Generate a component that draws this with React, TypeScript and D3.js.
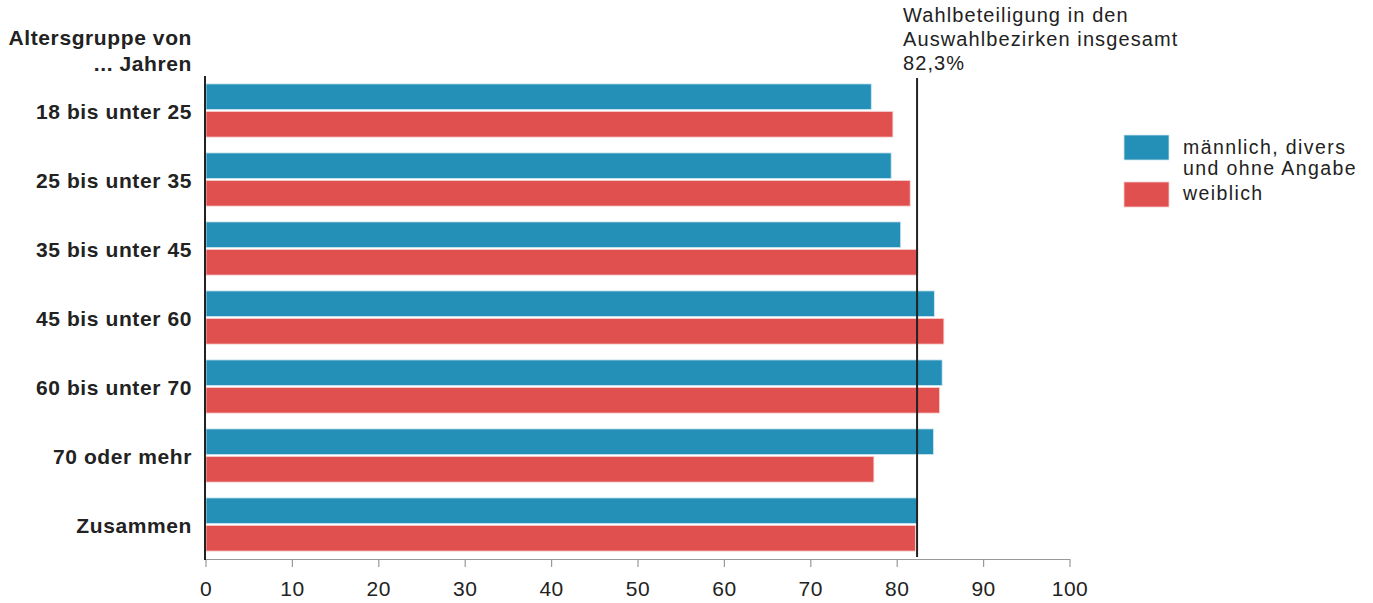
import React from "react";
import * as d3 from "d3";

const categories = ["18 bis unter 25", "25 bis unter 35", "35 bis unter 45", "45 bis unter 60", "60 bis unter 70", "70 oder mehr", "Zusammen"];
const maleValues = [77.0, 79.3, 80.4, 84.3, 85.2, 84.2, 82.3];
const femaleValues = [79.5, 81.5, 82.4, 85.4, 84.9, 77.3, 82.1];
const xTicks = [0, 10, 20, 30, 40, 50, 60, 70, 80, 90, 100];
const overall = 82.3;
const seriesNames = ["männlich, divers\nund ohne Angabe", "weiblich"];
const colors = ["#2490b8", "#e0504e"];

const W = 1373;
const H = 603;
const FONT = "'Liberation Sans', Arial, Helvetica, sans-serif";

export default function App() {
  const x = d3.scaleLinear().domain([0, 100]).range([206, 1070]);
  const y = d3.scaleBand<string>().domain(categories).range([76, 559]).paddingInner(0.23).paddingOuter(0.115);
  const bw = y.bandwidth();
  const barH = (bw - 2) / 2;
  const lbl = { fontWeight: "bold" as const, fontSize: 21, fill: "#222", letterSpacing: 0.6 };
  const reg = { fontSize: 20, fill: "#222", letterSpacing: 1.1 };
  const leg = { fontSize: 19.5, fill: "#222", letterSpacing: 1.4 };
  return (
    <svg width={W} height={H} style={{ position: "absolute", left: 0, top: 0, fontFamily: FONT }}>
      <rect width={W} height={H} fill="#fff" />
      <text x={192} y={45} textAnchor="end" {...lbl}>Altersgruppe von</text>
      <text x={192} y={71} textAnchor="end" {...lbl}>... Jahren</text>
      {categories.map((c, i) => {
        const y0 = y(c)!;
        return (
          <g key={c}>
            <rect x={x(0)} y={y0} width={x(maleValues[i]) - x(0)} height={barH} fill={colors[0]} stroke="#cfe6f0" strokeWidth={0.8} />
            <rect x={x(0)} y={y0 + barH + 2} width={x(femaleValues[i]) - x(0)} height={barH} fill={colors[1]} stroke="#f6d0cf" strokeWidth={0.8} />
            <text x={192} y={y0 + bw / 2 + 8} textAnchor="end" {...lbl}>{c}</text>
          </g>
        );
      })}
      <line x1={x(0)} x2={x(100)} y1={559.5} y2={559.5} stroke="#999" strokeWidth={1.2} />
      {xTicks.map((t) => (
        <g key={t}>
          <line x1={x(t)} x2={x(t)} y1={559} y2={567} stroke="#999" strokeWidth={1.2} />
          <text x={x(t)} y={596} textAnchor="middle" fontSize={21} fill="#222" letterSpacing={0.5}>{t}</text>
        </g>
      ))}
      <line x1={205} x2={205} y1={76} y2={560} stroke="#222" strokeWidth={2} />
      <line x1={x(overall)} x2={x(overall)} y1={78} y2={557} stroke="#222" strokeWidth={2} />
      <text x={903} y={22} {...reg}>Wahlbeteiligung in den</text>
      <text x={903} y={46} {...reg}>Auswahlbezirken insgesamt</text>
      <text x={903} y={70} {...reg}>82,3%</text>
      <rect x={1124} y={135} width={45} height={25} fill={colors[0]} stroke="#cfe6f0" strokeWidth={0.8} />
      <rect x={1124} y={182} width={45} height={25} fill={colors[1]} stroke="#f6d0cf" strokeWidth={0.8} />
      {seriesNames[0].split("\n").map((s, k) => (
        <text key={k} x={1183} y={154 + k * 21} {...leg}>{s}</text>
      ))}
      <text x={1183} y={200} {...leg}>{seriesNames[1]}</text>
    </svg>
  );
}
